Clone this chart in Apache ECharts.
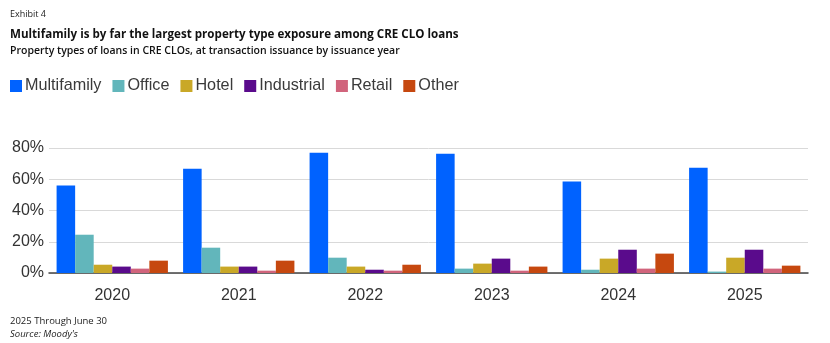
<!DOCTYPE html>
<html>
<head>
<meta charset="utf-8">
<script src="https://cdn.jsdelivr.net/npm/echarts@6/dist/echarts.min.js"></script>
<style>
html,body{margin:0;padding:0;background:#fff;}
#chart{width:830px;height:343px;}
</style>
</head>
<body>
<div id="chart"></div>
<script>
const years = ['2020','2021','2022','2023','2024','2025'];
const multifamily = [56, 66.8, 77, 76.4, 58.5, 67.4];
const office = [24.5, 16.2, 9.8, 2.8, 2.1, 0.9];
const hotel = [5.3, 4.1, 4.1, 6.0, 9.2, 9.8];
const industrial = [4.1, 4.1, 2.1, 9.2, 14.9, 14.9];
const retail = [2.8, 1.5, 1.5, 1.5, 2.8, 2.8];
const other = [7.9, 7.9, 5.3, 4.1, 12.4, 4.7];
const yTicks = [0, 20, 40, 60, 80];

const seriesDefs = [
  ['Multifamily', multifamily, '#0062ff'],
  ['Office', office, '#62b6bb'],
  ['Hotel', hotel, '#c9a827'],
  ['Industrial', industrial, '#5a0b8c'],
  ['Retail', retail, '#d1647c'],
  ['Other', other, '#c6480f']
];

const chart = echarts.init(document.getElementById('chart'), null, {renderer:'canvas'});
const option = {
  animation: false,
  textStyle: {fontFamily: 'Liberation Sans'},
  title: [
    {text: 'Exhibit 4', left: 5, top: 5, textStyle: {fontFamily: 'Open Sans', fontSize: 9, fontWeight: 'normal', color: '#222'}},
    {text: 'Multifamily is by far the largest property type exposure among CRE CLO loans', left: 5, top: 24,
     textStyle: {fontFamily: 'Open Sans', fontSize: 11.6, fontWeight: 'bold', color: '#111'}},
    {text: 'Property types of loans in CRE CLOs, at transaction issuance by issuance year', left: 5, top: 41,
     textStyle: {fontFamily: 'Open Sans', fontSize: 10.5, fontWeight: 600, color: '#111'}},
    {text: '2025 Through June 30', left: 5, top: 311, textStyle: {fontFamily: 'Open Sans', fontSize: 9.5, fontWeight: 'normal', color: '#222'}},
    {text: "Source: Moody's", left: 5, top: 324, textStyle: {fontFamily: 'Open Sans', fontSize: 9.5, fontWeight: 'normal', fontStyle: 'italic', color: '#222'}}
  ],
  legend: {
    left: 5, top: 73,
    itemWidth: 12, itemHeight: 12, itemGap: 11,
    icon: 'rect',
    textStyle: {fontFamily: 'Liberation Sans', fontSize: 16.2, color: '#3a3a3a', padding: [0,0,0,-2]},
    data: seriesDefs.map(s => s[0])
  },
  grid: {left: 49, right: 22, top: 148, bottom: 70, containLabel: false},
  xAxis: {
    type: 'category',
    data: years,
    axisLine: {lineStyle: {color: '#444', width: 1.5}},
    axisTick: {show: false},
    axisLabel: {fontSize: 16, color: '#333', margin: 15, fontFamily: 'Liberation Sans'}
  },
  yAxis: {
    type: 'value',
    min: yTicks[0], max: yTicks[yTicks.length-1], interval: 20,
    axisLine: {show: false},
    axisTick: {show: false},
    splitLine: {lineStyle: {color: '#d9d9d9', width: 1}},
    axisLabel: {fontSize: 16, color: '#333', margin: 5, formatter: v => v + '%', fontFamily: 'Liberation Sans'}
  },
  series: seriesDefs.map(s => ({
    name: s[0], type: 'bar', data: s[1],
    itemStyle: {color: s[2]},
    barGap: '0%', barCategoryGap: '12%'
  }))
};
chart.setOption(option);
</script>
</body>
</html>
